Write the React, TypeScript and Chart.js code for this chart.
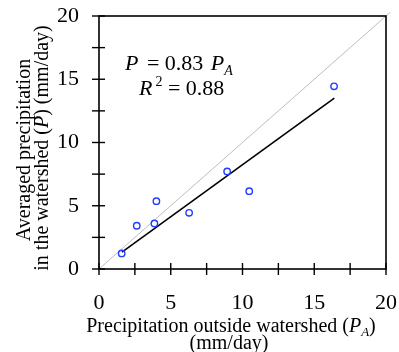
import React, { useEffect, useRef } from "react";
import { Chart, registerables } from "chart.js";

Chart.register(...registerables);

const precipOutside = [1.58, 2.63, 3.86, 4.0, 6.28, 8.93, 10.47, 16.38];
const precipWatershed = [1.23, 3.42, 3.6, 5.36, 4.44, 7.71, 6.15, 14.44];
const fitX = [1.6, 16.4];
const fitY = [1.33, 13.5];
const oneToOneX = [0, 20.3];
const oneToOneY = [0, 20.3];
const axisMin = 0;
const axisMax = 20;
const majorStep = 5;
const minorStep = 2.5;
const tickValues = [0, 2.5, 5, 7.5, 10, 12.5, 15, 17.5, 20];

const SERIF = '"Liberation Serif", "Times New Roman", serif';

type Seg = { t: string; italic?: boolean; size: number; dy?: number; dx?: number };

function segWidth(ctx: CanvasRenderingContext2D, segs: Seg[]) {
  let w = 0;
  for (const s of segs) {
    ctx.font = `${s.italic ? "italic " : ""}${s.size}px ${SERIF}`;
    w += ctx.measureText(s.t).width + (s.dx || 0);
  }
  return w;
}

function drawSegs(ctx: CanvasRenderingContext2D, segs: Seg[], x: number, y: number) {
  let cx = x;
  for (const s of segs) {
    ctx.font = `${s.italic ? "italic " : ""}${s.size}px ${SERIF}`;
    cx += s.dx || 0;
    ctx.fillText(s.t, cx, y + (s.dy || 0));
    cx += ctx.measureText(s.t).width;
  }
}

const decorPlugin = {
  id: "decor",
  afterDraw(chart: any) {
    const ctx: CanvasRenderingContext2D = chart.ctx;
    const { left, right, top, bottom } = chart.chartArea;
    const xs = chart.scales.x;
    const ys = chart.scales.y;
    ctx.save();
    ctx.strokeStyle = "#000";
    ctx.fillStyle = "#000";
    ctx.lineWidth = 1.6;
    ctx.strokeRect(left, top, right - left, bottom - top);
    ctx.lineWidth = 1.4;
    for (const v of tickValues) {
      const px = xs.getPixelForValue(v);
      ctx.beginPath();
      ctx.moveTo(px, bottom - 6);
      ctx.lineTo(px, bottom + 6);
      ctx.stroke();
      const py = ys.getPixelForValue(v);
      ctx.beginPath();
      ctx.moveTo(left - 7, py);
      ctx.lineTo(left + 6, py);
      ctx.stroke();
    }
    ctx.textBaseline = "alphabetic";
    ctx.textAlign = "left";
    drawSegs(
      ctx,
      [
        { t: "P", italic: true, size: 22 },
        { t: " = 0.83 ", size: 22, dx: 3 },
        { t: "P", italic: true, size: 22, dx: 2 },
        { t: "A", italic: true, size: 14, dy: 5 },
      ],
      125,
      70
    );
    drawSegs(
      ctx,
      [
        { t: "R", italic: true, size: 22 },
        { t: "2", size: 14, dy: -9, dx: 3 },
        { t: " = 0.88", size: 22 },
      ],
      139,
      95
    );
    const xl1: Seg[] = [
      { t: "Precipitation outside watershed (", size: 20 },
      { t: "P", italic: true, size: 20 },
      { t: "A", italic: true, size: 13, dy: 4 },
      { t: ")", size: 20 },
    ];
    const w1 = segWidth(ctx, xl1);
    drawSegs(ctx, xl1, 231 - w1 / 2, 332);
    const xl2: Seg[] = [{ t: "(mm/day)", size: 20 }];
    const w2 = segWidth(ctx, xl2);
    drawSegs(ctx, xl2, 229 - w2 / 2, 349);
    const yl1: Seg[] = [{ t: "Averaged precipitation", size: 20 }];
    const yl2: Seg[] = [
      { t: "in the watershed (", size: 20 },
      { t: "P", italic: true, size: 20 },
      { t: ") (mm/day)", size: 20 },
    ];
    ctx.save();
    ctx.translate(30, 150);
    ctx.rotate(-Math.PI / 2);
    const wy1 = segWidth(ctx, yl1);
    drawSegs(ctx, yl1, -wy1 / 2, 0);
    ctx.restore();
    ctx.save();
    ctx.translate(48, 148);
    ctx.rotate(-Math.PI / 2);
    const wy2 = segWidth(ctx, yl2);
    drawSegs(ctx, yl2, -wy2 / 2, 0);
    ctx.restore();
    ctx.restore();
  },
};

export default function App() {
  const ref = useRef<HTMLCanvasElement>(null);
  useEffect(() => {
    if (!ref.current) return;
    const tickFont = { family: SERIF, size: 22 };
    const labelCb = (v: any) => (Number(v) % majorStep === 0 ? String(v) : "");
    const chart = new Chart(ref.current, {
      type: "scatter",
      data: {
        datasets: [
          {
            type: "line",
            data: oneToOneX.map((x, i) => ({ x, y: oneToOneY[i] })),
            borderColor: "#bdbdbd",
            borderWidth: 1,
            pointRadius: 0,
            clip: false as any,
            order: 3,
          },
          {
            type: "line",
            data: fitX.map((x, i) => ({ x, y: fitY[i] })),
            borderColor: "#000",
            borderWidth: 1.6,
            pointRadius: 0,
            order: 2,
          },
          {
            data: precipOutside.map((x, i) => ({ x, y: precipWatershed[i] })),
            backgroundColor: "rgba(0,0,0,0)",
            borderColor: "#1f3dff",
            borderWidth: 1.4,
            pointRadius: 3.2,
            order: 1,
          },
        ] as any,
      },
      options: {
        animation: false,
        responsive: false,
        events: [],
        layout: { padding: { left: 0, right: 13, top: 16, bottom: 0 } },
        plugins: { legend: { display: false }, tooltip: { enabled: false } },
        scales: {
          x: {
            type: "linear",
            min: axisMin,
            max: axisMax,
            border: { display: false },
            grid: { display: false, drawTicks: false },
            ticks: {
              stepSize: minorStep,
              autoSkip: false,
              maxRotation: 0,
              padding: 21,
              color: "#000",
              font: tickFont,
              callback: labelCb,
            },
            afterFit: (s: any) => {
              s.height = 83;
              s.paddingLeft = 0;
              s.paddingRight = 0;
              s.paddingTop = 0;
              s.paddingBottom = 0;
            },
          },
          y: {
            type: "linear",
            min: axisMin,
            max: axisMax,
            border: { display: false },
            grid: { display: false, drawTicks: false },
            ticks: {
              stepSize: minorStep,
              autoSkip: false,
              padding: 20,
              color: "#000",
              font: tickFont,
              callback: labelCb,
            },
            afterFit: (s: any) => {
              s.width = 99;
              s.paddingLeft = 0;
              s.paddingRight = 0;
              s.paddingTop = 0;
              s.paddingBottom = 0;
            },
          },
        },
      },
      plugins: [decorPlugin],
    } as any);
    return () => chart.destroy();
  }, []);
  return (
    <div style={{ position: "fixed", left: 0, top: 0, width: 399, height: 352, background: "#fff" }}>
      <canvas ref={ref} width={399} height={352} style={{ display: "block" }} />
    </div>
  );
}
